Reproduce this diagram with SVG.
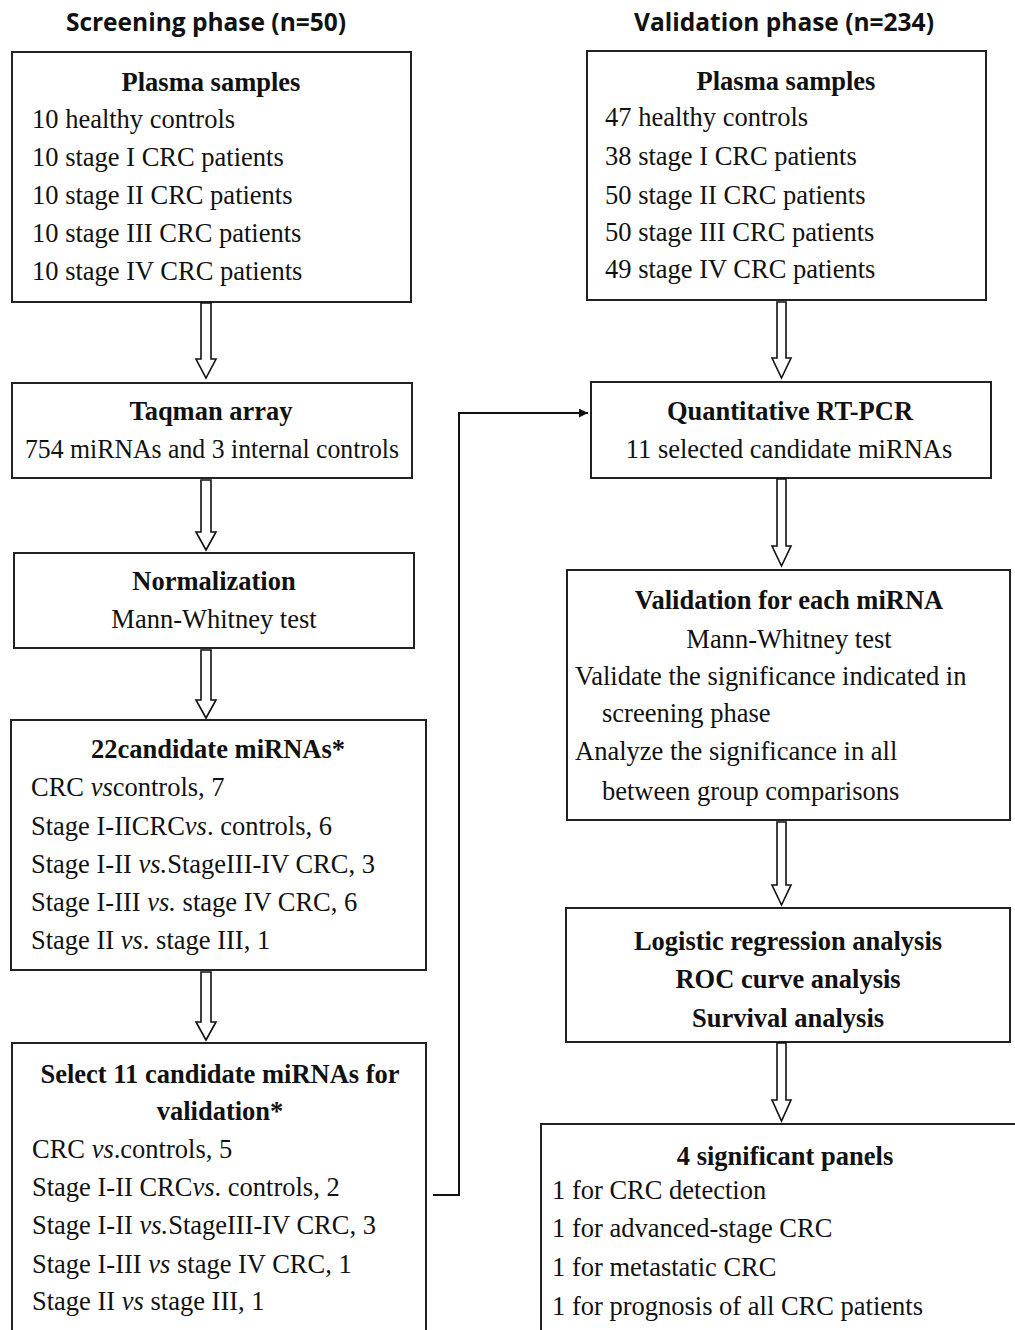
<svg xmlns="http://www.w3.org/2000/svg" width="1015" height="1330" viewBox="0 0 1015 1330">
<style>
.box{fill:#fff;stroke:#222;stroke-width:2}
.t{font-family:"Liberation Serif","Times New Roman",serif;font-size:26.5px;fill:#111}
.b{font-weight:bold}
.c{text-anchor:middle}
.i{font-style:italic}
.h{font-family:"Open Sans","Noto Sans",sans-serif;font-weight:700;font-size:24.5px;fill:#111;text-anchor:middle}
.ar{fill:#fff;stroke:#111;stroke-width:1.6;stroke-linejoin:miter}
.con{fill:none;stroke:#111;stroke-width:2}
</style>
<defs>
<marker id="ah" viewBox="0 0 10 10" refX="10" refY="5" markerWidth="10" markerHeight="9" markerUnits="userSpaceOnUse" orient="auto">
<path d="M0,0 L10,5 L0,10 Z" fill="#111"/>
</marker>
</defs>
<rect width="1015" height="1330" fill="#fff"/>
<text class="h" x="206" y="31">Screening phase (n=50)</text>
<text class="h" x="784" y="31">Validation phase (n=234)</text>

<g id="n_plasma_s">
<rect class="box" x="12" y="52" width="399" height="250"/>
<text class="t b c" x="211" y="91">Plasma samples</text>
<text class="t" x="32" y="128">10 healthy controls</text>
<text class="t" x="32" y="166">10 stage I CRC patients</text>
<text class="t" x="32" y="204">10 stage II CRC patients</text>
<text class="t" x="32" y="242">10 stage III CRC patients</text>
<text class="t" x="32" y="280">10 stage IV CRC patients</text>
</g>
<g id="n_taqman">
<rect class="box" x="12" y="383" width="400" height="95"/>
<text class="t b c" x="211" y="420">Taqman array</text>
<text class="t c" x="212" y="458" textLength="374" lengthAdjust="spacingAndGlyphs">754 miRNAs and 3 internal controls</text>
</g>
<g id="n_norm">
<rect class="box" x="14" y="553" width="400" height="95"/>
<text class="t b c" x="214" y="590">Normalization</text>
<text class="t c" x="214" y="628">Mann-Whitney test</text>
</g>
<g id="n_22">
<rect class="box" x="11" y="720" width="415" height="250"/>
<text class="t b c" x="218" y="758">22candidate miRNAs*</text>
<text class="t" x="31" y="796">CRC <tspan class="i">vs</tspan>controls, 7</text>
<text class="t" x="31" y="835">Stage I-IICRC<tspan class="i">vs</tspan>. controls, 6</text>
<text class="t" x="31" y="873">Stage I-II <tspan class="i">vs.</tspan>StageIII-IV CRC, 3</text>
<text class="t" x="31" y="911">Stage I-III <tspan class="i">vs.</tspan> stage IV CRC, 6</text>
<text class="t" x="31" y="949">Stage II <tspan class="i">vs</tspan>. stage III, 1</text>
</g>
<g id="n_select">
<rect class="box" x="12" y="1043" width="414" height="300"/>
<text class="t b c" x="220" y="1083">Select 11 candidate miRNAs for</text>
<text class="t b c" x="220" y="1120">validation*</text>
<text class="t" x="32" y="1158">CRC <tspan class="i">vs</tspan>.controls, 5</text>
<text class="t" x="32" y="1196">Stage I-II CRC<tspan class="i">vs</tspan>. controls, 2</text>
<text class="t" x="32" y="1234">Stage I-II <tspan class="i">vs.</tspan>StageIII-IV CRC, 3</text>
<text class="t" x="32" y="1273">Stage I-III <tspan class="i">vs</tspan> stage IV CRC, 1</text>
<text class="t" x="32" y="1310">Stage II <tspan class="i">vs</tspan> stage III, 1</text>
</g>

<g id="n_plasma_v">
<rect class="box" x="587" y="51" width="399" height="249"/>
<text class="t b c" x="786" y="90">Plasma samples</text>
<text class="t" x="605" y="126">47 healthy controls</text>
<text class="t" x="605" y="165">38 stage I CRC patients</text>
<text class="t" x="605" y="204">50 stage II CRC patients</text>
<text class="t" x="605" y="241">50 stage III CRC patients</text>
<text class="t" x="605" y="278">49 stage IV CRC patients</text>
</g>
<g id="n_qpcr">
<rect class="box" x="591" y="382" width="400" height="96"/>
<text class="t b c" x="790" y="420">Quantitative RT-PCR</text>
<text class="t c" x="789" y="458">11 selected candidate miRNAs</text>
</g>
<g id="n_valid">
<rect class="box" x="567" y="570" width="443" height="250"/>
<text class="t b c" x="789" y="609">Validation for each miRNA</text>
<text class="t c" x="789" y="648">Mann-Whitney test</text>
<text class="t" x="575" y="685">Validate the significance indicated in</text>
<text class="t" x="602" y="722">screening phase</text>
<text class="t" x="575" y="760">Analyze the significance in all</text>
<text class="t" x="602" y="800">between group comparisons</text>
</g>
<g id="n_logit">
<rect class="box" x="566" y="908" width="444" height="134"/>
<text class="t b c" x="788" y="950">Logistic regression analysis</text>
<text class="t b c" x="788" y="988">ROC curve analysis</text>
<text class="t b c" x="788" y="1027">Survival analysis</text>
</g>
<g id="n_panels">
<rect class="box" x="541" y="1124" width="500" height="230"/>
<text class="t b c" x="785" y="1165">4 significant panels</text>
<text class="t" x="552" y="1199">1 for CRC detection</text>
<text class="t" x="552" y="1237">1 for advanced-stage CRC</text>
<text class="t" x="552" y="1276">1 for metastatic CRC</text>
<text class="t" x="552" y="1315">1 for prognosis of all CRC patients</text>
</g>

<g id="connectors">
<polygon class="ar" points="201,303 211,303 211,359 216,359 206,378 196,359 201,359"/>
<polygon class="ar" points="201,480 211,480 211,532 216,532 206,550 196,532 201,532"/>
<polygon class="ar" points="201,650 211,650 211,700 216,700 206,718 196,700 201,700"/>
<polygon class="ar" points="201,972 211,972 211,1022 216,1022 206,1040 196,1022 201,1022"/>
<polygon class="ar" points="777,302 786,302 786,358 791,358 781.5,378 772,358 777,358"/>
<polygon class="ar" points="777,479 786,479 786,546 791,546 781.5,566 772,546 777,546"/>
<polygon class="ar" points="777,822 786,822 786,885 791,885 781.5,905 772,885 777,885"/>
<polygon class="ar" points="777,1043 786,1043 786,1100 791,1100 781.5,1121 772,1100 777,1100"/>
<polyline class="con" points="433,1195 459,1195 459,413 588,413" marker-end="url(#ah)"/>
</g>
</svg>
